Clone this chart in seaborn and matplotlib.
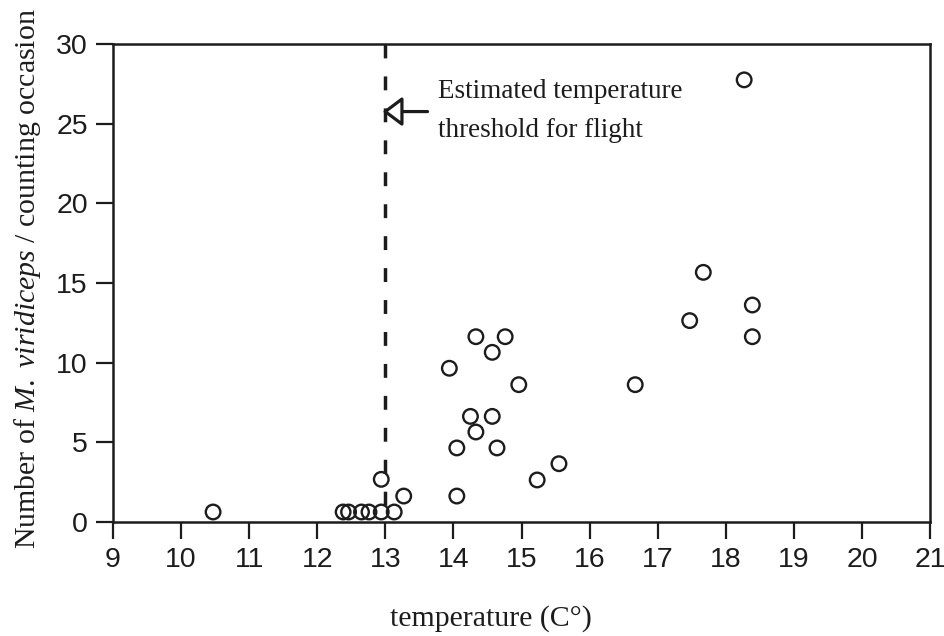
import matplotlib
matplotlib.use("Agg")
import matplotlib.pyplot as plt
import seaborn as sns
import pandas as pd

# Mean number of M. viridiceps per counting occasion against air temperature
temperature = [10.47, 12.38, 12.46, 12.65, 12.76, 12.94, 13.13, 12.94, 13.27,
               13.94, 14.05, 14.05, 14.25, 14.33, 14.33, 14.57, 14.57, 14.64,
               14.76, 14.96, 15.23, 15.55, 16.67, 17.47, 17.67, 18.27, 18.39,
               18.39]
count = [0.63, 0.63, 0.63, 0.63, 0.63, 0.63, 0.63, 2.68, 1.63,
         9.65, 4.65, 1.63, 6.63, 11.63, 5.65, 10.65, 6.63, 4.65,
         11.63, 8.62, 2.64, 3.66, 8.62, 12.64, 15.67, 27.75, 13.62,
         11.63]

threshold = 13.0
x_ticks = list(range(9, 22))
y_ticks = [0, 5, 10, 15, 20, 25, 30]

df = pd.DataFrame({"temperature": temperature, "count": count})

sns.set_style("white")
plt.rcParams["font.family"] = ["Liberation Sans", "DejaVu Sans"]
plt.rcParams["mathtext.fontset"] = "custom"
plt.rcParams["mathtext.rm"] = "Liberation Serif"
plt.rcParams["mathtext.it"] = "Liberation Serif:italic"

ink = "#1c1c1c"
serif = ["Liberation Serif", "DejaVu Serif"]

fig = plt.figure(figsize=(9.44, 6.36), dpi=100)
ax = fig.add_axes([0.1197, 0.1792, 0.8655, 0.7516])

# Threshold line, dashed from the top of the frame down to zero
ax.plot([threshold, threshold], [30, 0], color=ink, lw=2.5,
        ls=(0, (4, 5.2)), zorder=2, clip_on=False)

sns.scatterplot(data=df, x="temperature", y="count", ax=ax, marker="o",
                s=110, facecolors="none", edgecolor=ink, linewidth=1.7,
                zorder=3, clip_on=False)

ax.set_xlim(9, 21)
ax.set_ylim(0, 30)
ax.set_xticks(x_ticks)
ax.set_yticks(y_ticks)
ax.tick_params(axis="both", direction="out", length=12, width=1.6,
               color=ink, labelcolor=ink, labelsize=20.5, pad=6,
               bottom=True, left=True, top=False, right=False)
for sp in ax.spines.values():
    sp.set_visible(True)
    sp.set_linewidth(1.8)
    sp.set_color(ink)

ax.set_xlabel("temperature (C\u00b0)", family=serif, fontsize=21.5, color=ink)
ax.set_ylabel(r"Number of $\mathit{M.\ viridiceps}$ / counting occasion",
              family=serif, fontsize=21.5, color=ink)
ax.xaxis.set_label_coords(0.463, -0.174)
ax.yaxis.set_label_coords(-0.086, 0.51)

# Arrow pointing at the threshold line with its caption
ax.annotate("", xy=(12.96, 25.76), xytext=(13.62, 25.76),
            arrowprops=dict(arrowstyle="-|>,head_length=0.6,head_width=0.45",
                            mutation_scale=20, lw=2.3, color=ink,
                            fc="white", shrinkA=0, shrinkB=0))
ax.text(13.77, 27.05, "Estimated temperature", family=serif, fontsize=19.5,
        color=ink, va="center", ha="left")
ax.text(13.77, 24.55, "threshold for flight", family=serif, fontsize=19.5,
        color=ink, va="center", ha="left")

fig.savefig("out.png", dpi=100, facecolor="white")
